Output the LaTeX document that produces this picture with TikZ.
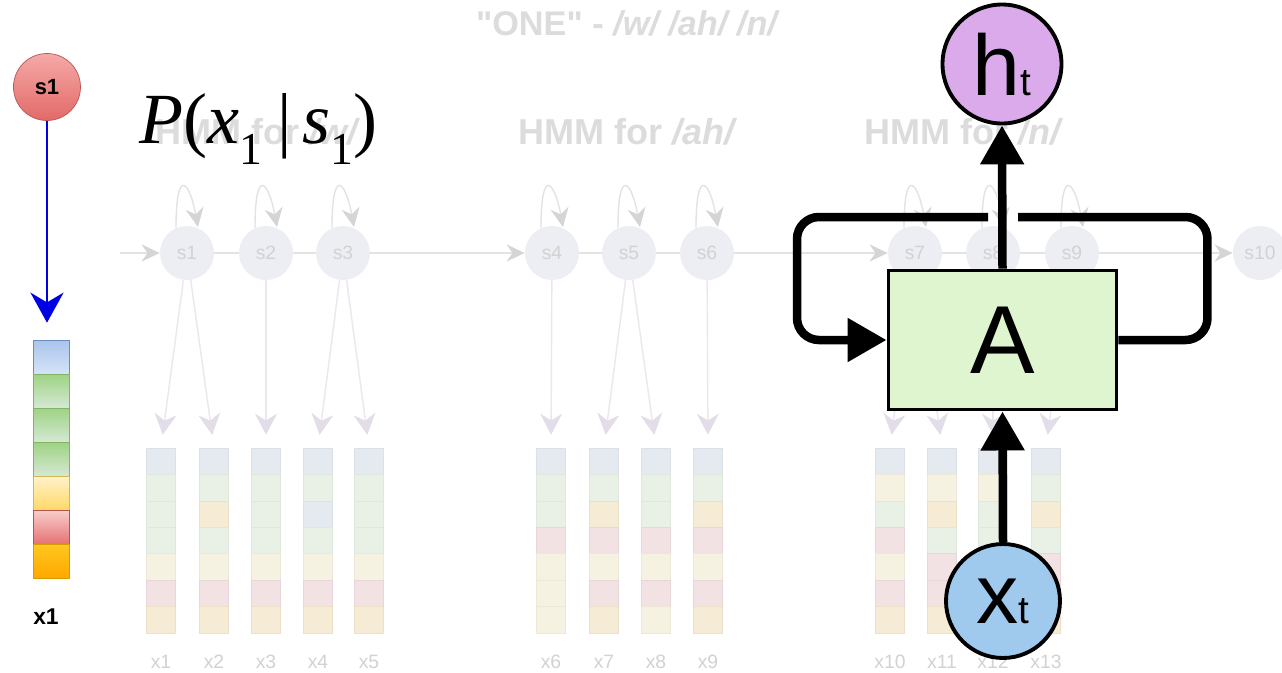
\documentclass[tikz,border=0pt]{standalone}
\usepackage{fontspec}
\setmainfont{Liberation Sans}
\newfontfamily\tnr{Liberation Serif}
\usetikzlibrary{arrows.meta,calc}

% faded HMM background
\definecolor{fadetitle}{HTML}{DCDCDC}
\definecolor{fadetext}{HTML}{D2D2D2}
\definecolor{fadestate}{HTML}{ECEEF3}
\definecolor{fadeline}{HTML}{E3E3E3}
\definecolor{fadehead}{HTML}{D5D5D5}
\definecolor{fadeemit}{HTML}{EAE7EF}
\definecolor{fadeemithead}{HTML}{E2DDE8}
\definecolor{ffB}{HTML}{E5E9F0}\definecolor{fdB}{HTML}{DCE0E8}
\definecolor{ffG}{HTML}{E9F0E6}\definecolor{fdG}{HTML}{DFE8DC}
\definecolor{ffY}{HTML}{F6F2E2}\definecolor{fdY}{HTML}{ECE7D6}
\definecolor{ffR}{HTML}{F2E2E4}\definecolor{fdR}{HTML}{E8D6D8}
\definecolor{ffO}{HTML}{F6EBD5}\definecolor{fdO}{HTML}{ECE0C8}
% left example
\definecolor{lredtop}{HTML}{F5A9A7}\definecolor{lredbot}{HTML}{E26A68}\definecolor{lredline}{HTML}{B85450}
\definecolor{arblue}{HTML}{0000E6}
\definecolor{cBt}{HTML}{A9C4EB}\definecolor{cBb}{HTML}{D6E4F8}\definecolor{cBd}{HTML}{6C8EBF}
\definecolor{cGt}{HTML}{9ED383}\definecolor{cGb}{HTML}{D5E8D4}\definecolor{cGd}{HTML}{82B366}
\definecolor{cYt}{HTML}{FFF2CC}\definecolor{cYb}{HTML}{FFD966}\definecolor{cYd}{HTML}{D6B656}
\definecolor{cRt}{HTML}{F8CECC}\definecolor{cRb}{HTML}{E57373}\definecolor{cRd}{HTML}{B85450}
\definecolor{cOt}{HTML}{FFC820}\definecolor{cOb}{HTML}{FFA800}\definecolor{cOd}{HTML}{D79B00}
% rnn cell
\definecolor{cellgreen}{HTML}{DFF5D0}
\definecolor{hpurple}{HTML}{DBAAEA}
\definecolor{xblue}{HTML}{9FCAEE}

\tikzset{
  cellB/.style={draw=cBd,top color=cBt,bottom color=cBb},
  cellG/.style={draw=cGd,top color=cGt,bottom color=cGb},
  cellY/.style={draw=cYd,top color=cYt,bottom color=cYb},
  cellR/.style={draw=cRd,top color=cRt,bottom color=cRb},
  cellO/.style={draw=cOd,top color=cOt,bottom color=cOb},
}

\begin{document}
\begin{tikzpicture}[x=0.02cm,y=-0.02cm,
  hstate/.style={circle,minimum size=1.08cm,inner sep=0pt,fill=fadestate,text=fadetext,font=\fontsize{11}{11}\selectfont},
  hmmtitle/.style={text=fadetitle,font=\bfseries\fontsize{20.5}{20.5}\selectfont},
  fadearrow/.style={draw=fadeline,line width=0.8pt,-{Stealth[length=0.36cm,width=0.34cm,color=fadehead]}},
  emit/.style={draw=fadeemit,line width=0.8pt,shorten >=0.26cm,-{Stealth[length=0.42cm,width=0.44cm,color=fadeemithead]}},
  fbar/.style={minimum width=0.58cm,minimum height=3.7cm,inner sep=0pt},
  xlab/.style={text=fadetext,font=\fontsize{11}{11}\selectfont},
  rnnline/.style={line width=0.17cm},
  rnnhead/.style={-{Triangle[length=0.78cm,width=0.84cm]}},
  circ/.style={circle,draw,line width=2.2pt,inner sep=0pt}]
\clip (0,0) rectangle (1282,673);
\fill[white] (0,0) rectangle (1282,673);

% titles
\node[hmmtitle,font=\bfseries\fontsize{19.5}{19.5}\selectfont] (title) at (628,23)
  {\addfontfeatures{Ligatures=TeXOff}"ONE" - \textit{/w/ /ah/ /n/}};
\node[hmmtitle] (tw) at (258,132) {HMM for \textit{/w/}};
\node[hmmtitle] (tah) at (628,132) {HMM for \textit{/ah/}};
\node[hmmtitle] (tn) at (964,132) {HMM for \textit{/n/}};

% states
\foreach \n/\x in {1/187,2/266,3/343,4/552,5/629,6/707,7/915,8/993,9/1072,10/1260}
  \node[hstate] (s\n) at (\x,253) {s\n};
\coordinate (hin) at (120,253);
\draw[fadearrow] (hin) -- (s1);
\foreach \a/\b in {1/2,2/3,4/5,5/6,7/8,8/9}
  \draw[fadeline,line width=0.8pt] (s\a) -- (s\b);
\foreach \a/\b in {3/4,6/7,9/10}
  \draw[fadearrow] (s\a) -- (s\b);
\foreach \n in {1,...,9}
  \draw[fadearrow,-{Stealth[length=0.38cm,width=0.36cm,color=fadehead]}]
    ($(s\n.center)+(-11,-25)$) .. controls +(0,-64) and +(-8,-44) .. ($(s\n.center)+(11,-26)$);

% observation bars
\foreach \b/\x/\cols in {1/161/{B,G,G,G,Y,R,O},2/214/{B,G,O,G,Y,R,O},3/266/{B,G,G,G,Y,R,O},
    4/318/{B,G,B,G,Y,R,O},5/369/{B,G,G,G,Y,R,O},6/551/{B,G,G,R,Y,Y,Y},7/604/{B,G,O,R,Y,R,O},
    8/656/{B,G,G,R,Y,R,Y},9/708/{B,G,O,R,Y,R,O},10/890/{B,Y,G,R,Y,R,O},11/942/{B,Y,O,G,R,R,O},
    12/993/{B,Y,G,G,R,R,O},13/1046/{B,G,O,G,R,R,O}}{
  \node[fbar] (xb\b) at (\x,540.5) {};
  \foreach \c [count=\i] in \cols
    \draw[draw=fd\c,fill=ff\c] (\x-14.5,448+26.43*\i-26.43) rectangle ++(29,26.43);
  \node[xlab] (xl\b) at (\x,662) {x\b};
}
\foreach \s/\b in {1/1,1/2,2/3,3/4,3/5,4/6,5/7,5/8,6/9,7/10,7/11,8/12,9/13}
  \draw[emit] (s\s) -- (xb\b.north);

% P(x1|s1)
\node[anchor=base west,inner sep=0pt] (pform) at (139,143)
  {\tnr\fontsize{41}{41}\selectfont\textit{P}(\textit{x}\raisebox{-12.5pt}{\fontsize{26}{26}\selectfont 1}\hspace{9pt}|\hspace{6pt}\textit{s}\raisebox{-12.5pt}{\fontsize{26}{26}\selectfont 1})};

% single state and its observation
\node[circle,minimum size=1.34cm,inner sep=0pt,draw=lredline,top color=lredtop,bottom color=lredbot,
  font=\bfseries\fontsize{12.5}{12.5}\selectfont] (ls1) at (47,87) {s1};
\node[minimum width=0.72cm,minimum height=4.76cm,inner sep=0pt] (lbar) at (51,459) {};
\foreach \c [count=\i] in {B,G,G,G,Y,R,O}
  \draw[cell\c] (33,340+34*\i-34) rectangle ++(36,34);
\node[font=\bfseries\fontsize{13}{13}\selectfont] (lx1) at (46,617) {x1};
\draw[arblue,line width=1.7pt,shorten >=0.34cm,-{Stealth[length=0.6cm,width=0.66cm]}]
  (ls1.south) -- (ls1.south |- lbar.north);

% rnn cell
\node[draw,line width=1.7pt,fill=cellgreen,minimum width=4.58cm,minimum height=2.8cm,
  font=\fontsize{55}{55}\selectfont] (A) at (1002.5,340) {A};
\node[circ,fill=hpurple,minimum size=2.38cm] (h) at (1002,64)
  {\fontsize{49}{49}\selectfont h\fontsize{22}{22}\selectfont t};
\node[circ,fill=xblue,minimum size=2.28cm] (xt) at (1003,601)
  {\fontsize{48}{48}\selectfont x\fontsize{22}{22}\selectfont t};
\draw[rnnline,rnnhead] (A.north) -- (h.south);
\draw[rnnline,rnnhead] (xt.north) -- (A.south);
\coordinate (gapR) at (1018,217);
\coordinate (gapL) at (988,217);
\draw[rnnline,rounded corners=0.44cm] (A.east) -- ++(89,0) |- (gapR);
\draw[rnnline,rnnhead,rounded corners=0.44cm] (gapL) -- ++(-191,0) |- (A.west);
\end{tikzpicture}
\end{document}
